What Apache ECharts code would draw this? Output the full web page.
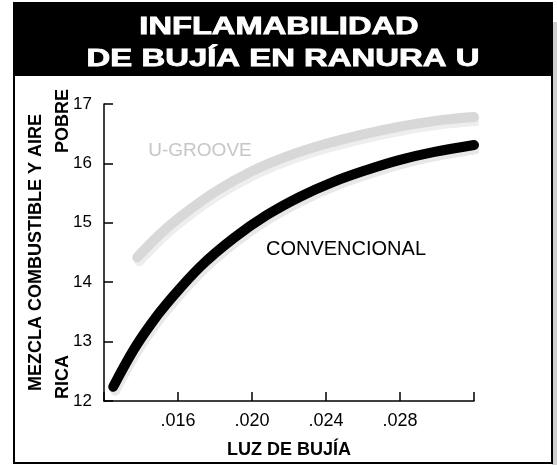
<!DOCTYPE html>
<html>
<head>
<meta charset="utf-8">
<script src="https://cdn.jsdelivr.net/npm/echarts@6/dist/echarts.min.js"></script>
<style>
  html, body { margin: 0; padding: 0; background: #fff; }
  #chart { width: 557px; height: 465px; }
</style>
</head>
<body>
<div id="chart"></div>
<script>
// Spark-plug gap (in inches) vs. air-fuel ratio at the lean flammability limit
const titleLines = ['INFLAMABILIDAD', 'DE BUJÍA EN RANURA U'];
const xAxisName = 'LUZ DE BUJÍA';
const yAxisName = 'MEZCLA COMBUSTIBLE Y AIRE';
const yTopNote = 'POBRE';
const yBottomNote = 'RICA';
const seriesNames = ['U-GROOVE', 'CONVENCIONAL'];

// U-groove plug: [gap, air-fuel ratio]
const uGroove = [
  [0.0138, 14.42], [0.0150, 14.80], [0.0160, 15.07], [0.0180, 15.52],
  [0.0200, 15.87], [0.0220, 16.13], [0.0240, 16.33], [0.0260, 16.49],
  [0.0280, 16.62], [0.0300, 16.72], [0.0320, 16.78]
];
// Conventional plug: [gap, air-fuel ratio]
const conventional = [
  [0.0125, 12.24], [0.0136, 12.86], [0.0145, 13.28], [0.0154, 13.64],
  [0.0172, 14.26], [0.0190, 14.74], [0.0208, 15.13], [0.0226, 15.44],
  [0.0244, 15.69], [0.0262, 15.89], [0.0280, 16.06], [0.0298, 16.19],
  [0.0320, 16.31]
];

const xMin = 0.012, xMax = 0.032, xStep = 0.004;
const yMin = 12, yMax = 17, yStep = 1;

const chart = echarts.init(document.getElementById('chart'), null, { renderer: 'canvas' });

const FONT = 'Liberation Sans';

function titleText(text, x, y, scaleX) {
  return {
    type: 'text', x: x, y: y, scaleX: scaleX,
    style: {
      text: text, fill: '#fff', stroke: '#fff', lineWidth: 0.8,
      font: 'bold 23px "Liberation Sans"', textAlign: 'center', textVerticalAlign: 'middle'
    }
  };
}

chart.setOption({
  backgroundColor: '#ffffff',
  animation: false,
  grid: { left: 104, right: 83, top: 104, bottom: 64 },
  xAxis: {
    type: 'value',
    min: xMin, max: xMax, interval: xStep,
    name: xAxisName,
    nameLocation: 'middle',
    nameGap: 40,
    nameTextStyle: { fontFamily: FONT, fontWeight: 'bold', fontSize: 18, color: '#000' },
    axisLine: { lineStyle: { color: '#000', width: 1.5 } },
    axisTick: { inside: true, length: 9, lineStyle: { color: '#000', width: 1.5 } },
    splitLine: { show: false },
    axisLabel: {
      margin: 11,
      fontFamily: FONT, fontSize: 18, color: '#000',
      formatter: v => (v <= xMin + 1e-9 || v >= xMax - 1e-9) ? '' : v.toFixed(3).replace(/^0/, '')
    }
  },
  yAxis: {
    type: 'value',
    min: yMin, max: yMax, interval: yStep,
    name: yAxisName,
    nameLocation: 'middle',
    nameRotate: 90,
    nameGap: 59,
    nameTextStyle: { fontFamily: FONT, fontWeight: 'bold', fontSize: 18, color: '#000' },
    axisLine: { show: true, lineStyle: { color: '#000', width: 1.5 } },
    axisTick: { show: true, inside: true, length: 9, lineStyle: { color: '#000', width: 1.5 } },
    splitLine: { show: false },
    axisLabel: { margin: 12, fontFamily: FONT, fontSize: 17, color: '#000' }
  },
  series: [
    {
      name: seriesNames[0],
      type: 'line',
      data: uGroove,
      smooth: 0.4,
      showSymbol: false,
      z: 3,
      lineStyle: {
        color: '#d8d8d8', width: 10, cap: 'round', join: 'round',
        shadowColor: '#eeeeee', shadowOffsetX: 2, shadowOffsetY: 4, shadowBlur: 0
      }
    },
    {
      name: seriesNames[1],
      type: 'line',
      data: conventional,
      smooth: 0.4,
      showSymbol: false,
      z: 4,
      lineStyle: {
        color: '#000000', width: 10, cap: 'round', join: 'round',
        shadowColor: '#e8e8e8', shadowOffsetX: 2, shadowOffsetY: 4, shadowBlur: 0
      }
    }
  ],
  graphic: [
    // drop shadow along the right side of the panel
    { type: 'rect', z: -5, shape: { x: 552, y: 22, width: 5, height: 443 }, style: { fill: '#cfcfcf' } },
    // panel frame
    { type: 'rect', z: -4, shape: { x: 14, y: 3, width: 538, height: 460 }, style: { fill: 'none', stroke: '#000', lineWidth: 2 } },
    // title band
    { type: 'rect', z: -3, shape: { x: 13, y: 3, width: 540, height: 73 }, style: { fill: '#000' } },
    titleText(titleLines[0], 279, 28, 1.42),
    titleText(titleLines[1], 283, 60, 1.43),
    // lean / rich notes beside the vertical axis
    {
      type: 'text', x: 63, y: 121, rotation: Math.PI / 2,
      style: { text: yTopNote, fill: '#000', font: 'bold 18px "Liberation Sans"', textAlign: 'center', textVerticalAlign: 'middle' }
    },
    {
      type: 'text', x: 63, y: 377, rotation: Math.PI / 2,
      style: { text: yBottomNote, fill: '#000', font: 'bold 18px "Liberation Sans"', textAlign: 'center', textVerticalAlign: 'middle' }
    },
    // curve labels
    {
      type: 'text', x: 200, y: 151,
      style: { text: seriesNames[0], fill: '#c6c6c6', font: '19px "Liberation Sans"', textAlign: 'center', textVerticalAlign: 'middle' }
    },
    {
      type: 'text', x: 346, y: 249,
      style: { text: seriesNames[1], fill: '#000', font: '20px "Liberation Sans"', textAlign: 'center', textVerticalAlign: 'middle' }
    }
  ]
});
</script>
</body>
</html>
